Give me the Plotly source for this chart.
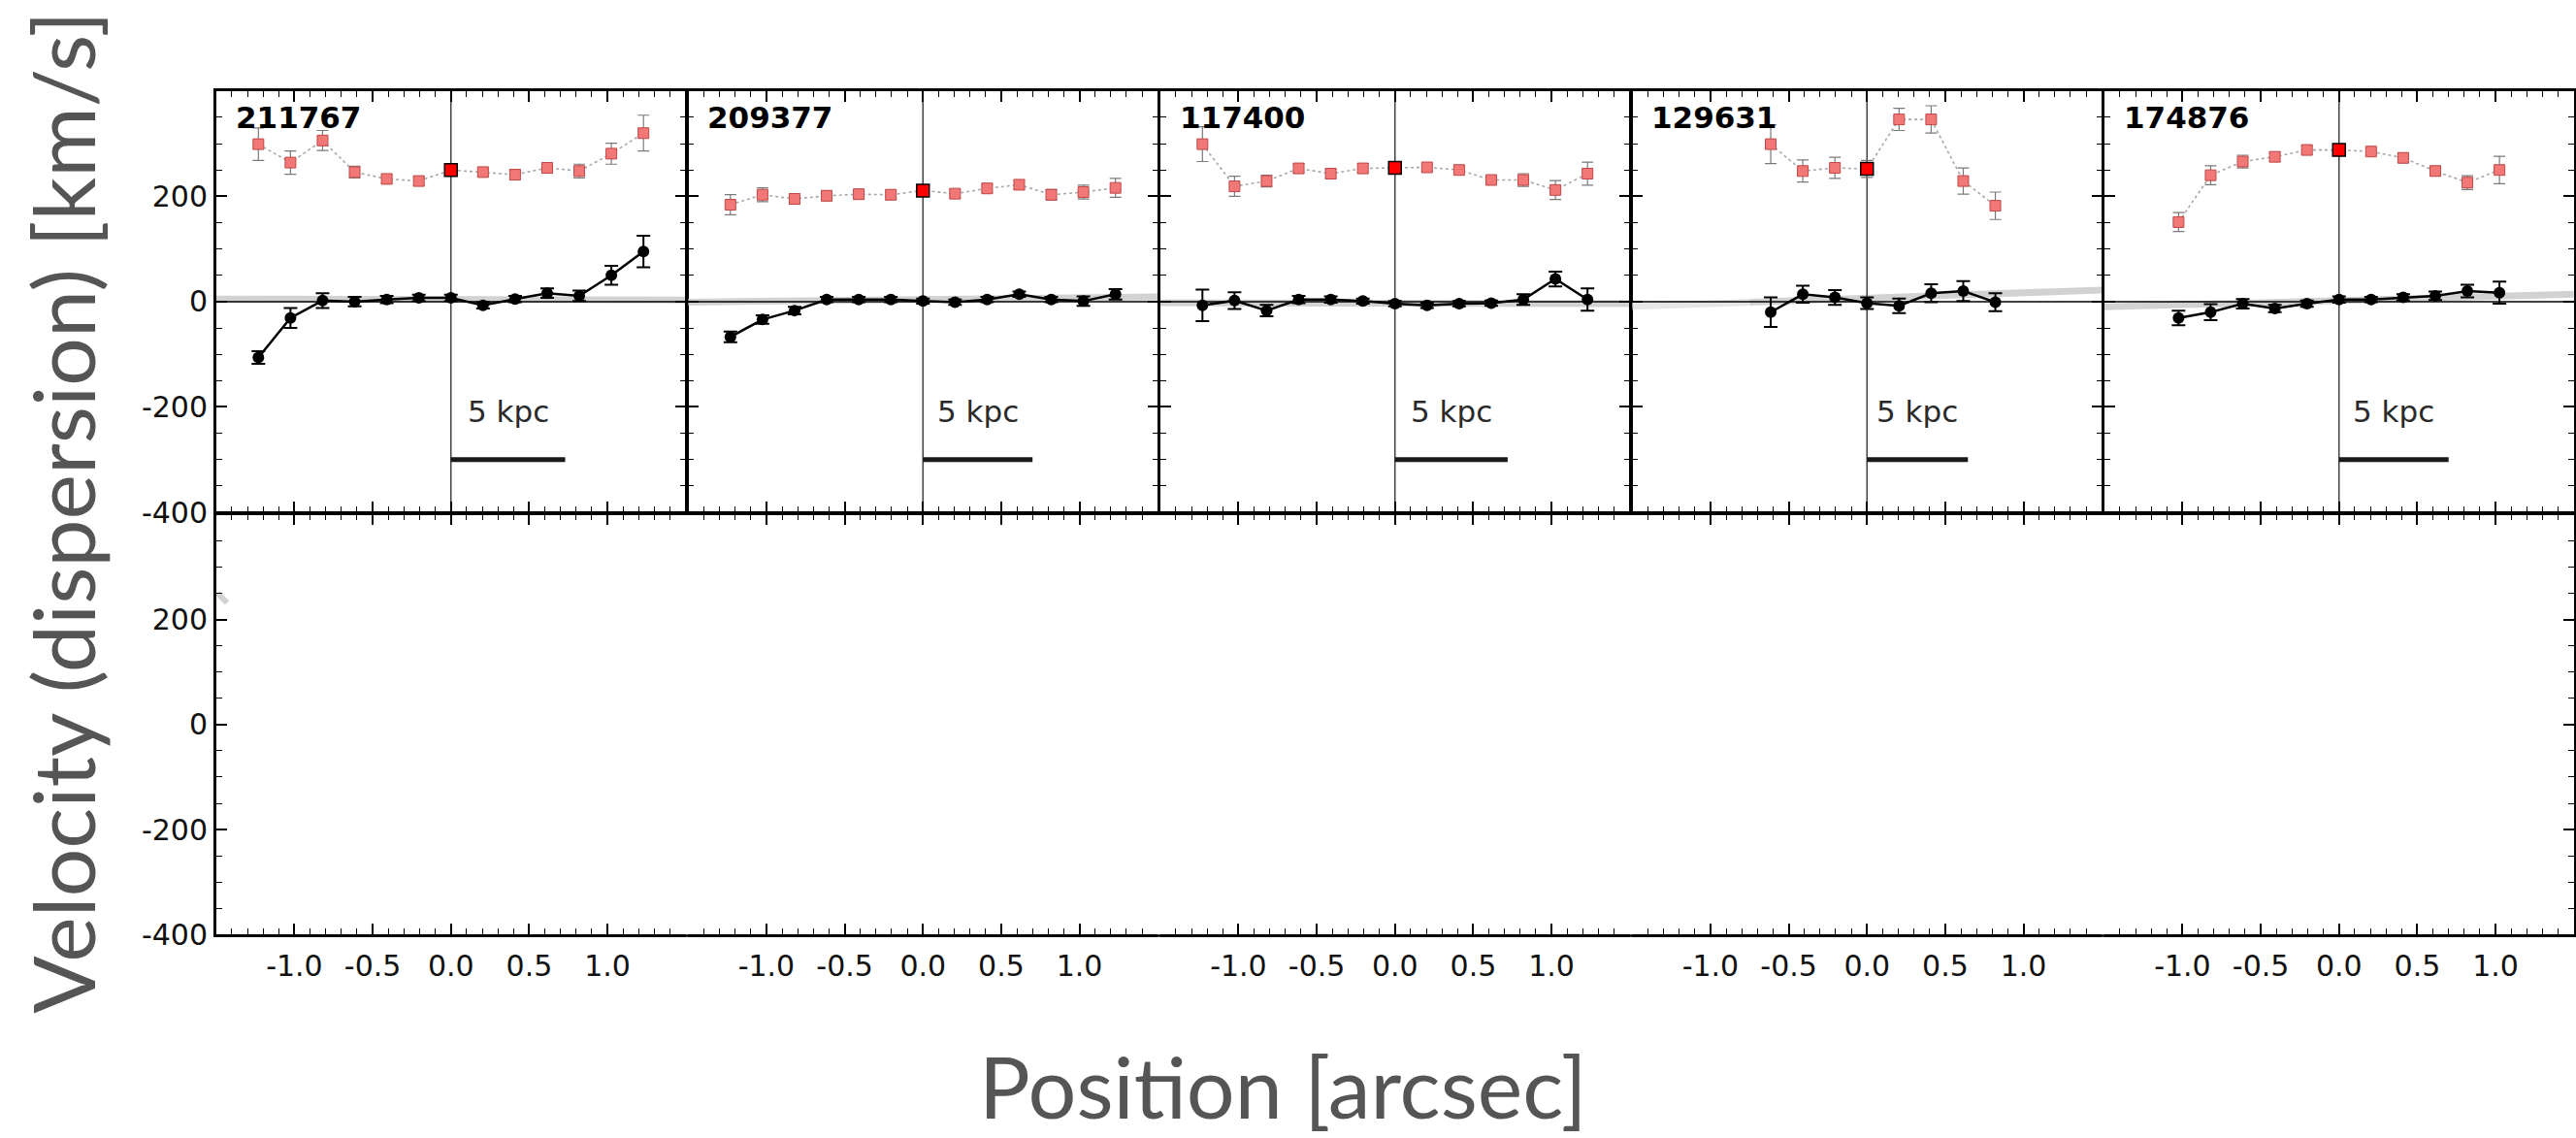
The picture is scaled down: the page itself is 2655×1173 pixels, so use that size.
import plotly.graph_objects as go

W, H = 2655, 1173

# ---------------- data ----------------
galaxy_ids = ["211767", "209377", "117400", "129631", "174876"]

x_211767 = [-1.23, -1.025, -0.82, -0.615, -0.41, -0.205, 0.0, 0.205, 0.41, 0.615, 0.82, 1.025, 1.23]
vel_211767 = [-106, -31, 2, 0, 4, 7, 7, -7, 5, 16, 11, 50, 95]
vel_err_211767 = [12, 19, 14, 9, 7, 6, 6, 6, 6, 9, 10, 18, 30]
disp_211767 = [299, 264, 306, 246, 233, 229, 250, 246, 241, 254, 248, 281, 320]
disp_err_211767 = [31, 22, 19, 11, 8, 8, 5, 8, 9, 10, 13, 20, 34]

x_209377 = [-1.23, -1.025, -0.82, -0.615, -0.41, -0.205, 0.0, 0.205, 0.41, 0.615, 0.82, 1.025, 1.23]
vel_209377 = [-67, -34, -17, 4, 4, 4, 1, -1, 4, 14, 4, 1, 14]
vel_err_209377 = [10, 8, 7, 5, 5, 5, 5, 5, 5, 5, 5, 9, 10]
disp_209377 = [184, 203, 195, 201, 204, 203, 211, 205, 215, 222, 203, 208, 216]
disp_err_209377 = [19, 13, 10, 9, 9, 9, 6, 8, 8, 9, 10, 13, 18]

x_117400 = [-1.23, -1.025, -0.82, -0.615, -0.41, -0.205, 0.0, 0.205, 0.41, 0.615, 0.82, 1.025, 1.23]
vel_117400 = [-7, 2, -17, 4, 4, 1, -4, -7, -4, -3, 4, 43, 4]
vel_err_117400 = [30, 16, 11, 7, 6, 5, 5, 5, 5, 5, 10, 14, 21]
disp_117400 = [299, 219, 229, 253, 243, 253, 254, 255, 250, 231, 231, 212, 243]
disp_err_117400 = [33, 19, 11, 9, 9, 9, 6, 8, 8, 8, 12, 18, 22]

x_129631 = [-0.615, -0.41, -0.205, 0.0, 0.205, 0.41, 0.615, 0.82]
vel_129631 = [-20, 14, 8, -3, -8, 16, 20, -1]
vel_err_129631 = [28, 16, 14, 11, 14, 17, 19, 17]
disp_129631 = [299, 248, 254, 252, 346, 346, 229, 182]
disp_err_129631 = [37, 21, 20, 16, 21, 26, 25, 26]

x_174876 = [-1.025, -0.82, -0.615, -0.41, -0.205, 0.0, 0.205, 0.41, 0.615, 0.82, 1.025]
vel_174876 = [-31, -20, -4, -13, -4, 4, 4, 8, 11, 20, 17]
vel_err_174876 = [14, 15, 9, 7, 6, 6, 5, 6, 8, 12, 21]
disp_174876 = [151, 240, 266, 275, 288, 288, 285, 273, 248, 226, 250]
disp_err_174876 = [18, 18, 12, 9, 8, 6, 7, 9, 9, 13, 26]

# grey model curves (end points over the panel width)
model_x = [-1.5, 1.5]
model_211767 = [5, 3]
model_209377 = [-1, 9]
model_117400 = [-2, -4]
model_129631 = [-9, 22]
model_174876 = [-10, 14]

# stray grey fragment visible in the lower-left panel
frag_x = [-1.49, -1.43]
frag_y = [250, 232]

# 5 kpc scale bar lengths in arcsec
kpc5_arcsec = [0.73, 0.70, 0.72, 0.645, 0.70]

x_ticks = [-1.5, -1.0, -0.5, 0.0, 0.5, 1.0, 1.5]
x_ticklabels = ["", "-1.0", "-0.5", "0.0", "0.5", "1.0", ""]
y_ticks = [-400, -200, 0, 200, 400]
y_ticklabels = ["-400", "-200", "0", "200", ""]
x_range = [-1.5, 1.5]
y_range = [-400, 400]

series = [
    (x_211767, vel_211767, vel_err_211767, disp_211767, disp_err_211767, model_211767),
    (x_209377, vel_209377, vel_err_209377, disp_209377, disp_err_209377, model_209377),
    (x_117400, vel_117400, vel_err_117400, disp_117400, disp_err_117400, model_117400),
    (x_129631, vel_129631, vel_err_129631, disp_129631, disp_err_129631, model_129631),
    (x_174876, vel_174876, vel_err_174876, disp_174876, disp_err_174876, model_174876),
]

# ---------------- layout geometry (pixels, frame-line centres) ----------------
LW = 2.5
col_edges = [221.5, 708.0, 1194.5, 1681.0, 2167.5, 2654.0]
row_edges = [94.0, 537.5, 979.5]

TICKFONT = dict(family="DejaVu Sans", size=30, color="#111111")

fig = go.Figure()
layout = dict(
    width=W, height=H,
    margin=dict(l=0, r=0, t=0, b=0),
    paper_bgcolor="white", plot_bgcolor="rgba(0,0,0,0)",
    showlegend=False,
    annotations=[], shapes=[],
)


def ax_names(n):
    return ("xaxis" if n == 1 else f"xaxis{n}",
            "yaxis" if n == 1 else f"yaxis{n}",
            "x" if n == 1 else f"x{n}",
            "y" if n == 1 else f"y{n}")


for r in range(2):
    top_px = row_edges[r] + LW / 2
    bot_px = row_edges[r + 1] - LW / 2
    for i in range(5):
        n = r * 5 + i + 1
        xa, ya, xr, yr = ax_names(n)
        x0p = col_edges[i] + LW / 2
        x1p = col_edges[i + 1] - LW / 2
        layout[xa] = dict(
            domain=[x0p / W, min(x1p / W, 1.0)],
            anchor=yr, range=x_range,
            showgrid=False, zeroline=False,
            showline=True, linecolor="black", linewidth=LW,
            mirror="ticks",
            ticks="inside", ticklen=11, tickwidth=1.6, tickcolor="black",
            tickmode="array", tickvals=x_ticks, ticktext=x_ticklabels,
            showticklabels=(r == 1), tickfont=TICKFONT, ticklabelstandoff=4,
            minor=dict(ticks="inside", ticklen=6, tickwidth=1.1,
                       tickcolor="black", tickmode="linear", tick0=0, dtick=0.1),
            fixedrange=True,
        )
        ydict = dict(
            domain=[1 - bot_px / H, 1 - top_px / H],
            anchor=xr, range=y_range,
            showgrid=False, zeroline=False,
            linecolor="black", linewidth=LW,
            tickmode="array", tickvals=y_ticks, ticktext=y_ticklabels,
            tickfont=TICKFONT, tickcolor="black", tickwidth=1.6, ticklen=11,
            minor=dict(ticks="inside", ticklen=6, tickwidth=1.1,
                       tickcolor="black", tickmode="linear", tick0=0, dtick=50),
            showticklabels=(i == 0),
            fixedrange=True,
        )
        if r == 0:
            ydict.update(showline=True, mirror="ticks", ticks="inside")
        else:
            if i == 0:
                ydict.update(showline=True, mirror=False, ticks="inside")
            elif i == 4:
                ydict.update(showline=True, mirror=False, ticks="inside", side="right",
                             showticklabels=False)
            else:
                ydict.update(showline=False, ticks="", minor=dict(ticks=""))
        layout[ya] = ydict

# continuous bottom frame line of the lower row
layout["shapes"].append(dict(
    type="line", xref="paper", yref="paper",
    x0=(col_edges[0] - LW / 2) / W, x1=1.0,
    y0=1 - row_edges[2] / H, y1=1 - row_edges[2] / H,
    line=dict(color="black", width=LW), layer="above"))

# ---------------- traces ----------------
for i, (xs, vel, vel_err, disp, disp_err, model) in enumerate(series):
    n = i + 1
    _, _, xr, yr = ax_names(n)
    # grey model
    if i == 3:
        ymid = model[0] + (model[1] - model[0]) * 0.25
        fig.add_trace(go.Scatter(x=[model_x[0], -0.75], y=[model[0], ymid],
                                 mode="lines", line=dict(color="#e6e6e6", width=7),
                                 xaxis=xr, yaxis=yr, hoverinfo="skip"))
        fig.add_trace(go.Scatter(x=[-0.75, model_x[1]], y=[ymid, model[1]],
                                 mode="lines", line=dict(color="#d2d2d2", width=7),
                                 xaxis=xr, yaxis=yr, hoverinfo="skip"))
    else:
        fig.add_trace(go.Scatter(x=model_x, y=model, mode="lines",
                                 line=dict(color="#d2d2d2", width=7),
                                 xaxis=xr, yaxis=yr, hoverinfo="skip"))
    # reference lines
    fig.add_trace(go.Scatter(x=x_range, y=[0, 0], mode="lines",
                             line=dict(color="black", width=1.5),
                             xaxis=xr, yaxis=yr, hoverinfo="skip"))
    fig.add_trace(go.Scatter(x=[0, 0], y=y_range, mode="lines",
                             line=dict(color="#444444", width=1.5),
                             xaxis=xr, yaxis=yr, hoverinfo="skip"))
    # dispersion (red squares)
    fig.add_trace(go.Scatter(
        x=xs, y=disp, mode="lines+markers",
        line=dict(color="#a8a8a8", width=1.6, dash="dot"),
        marker=dict(symbol="square", size=11, color="#f27878",
                    line=dict(color="#c04848", width=1)),
        error_y=dict(type="data", array=disp_err, color="#7a7a7a",
                     thickness=1.2, width=6),
        xaxis=xr, yaxis=yr))
    c = xs.index(0.0)
    fig.add_trace(go.Scatter(
        x=[xs[c]], y=[disp[c]], mode="markers",
        marker=dict(symbol="square", size=13, color="#ff0000",
                    line=dict(color="black", width=1.5)),
        xaxis=xr, yaxis=yr))
    # velocity (black circles)
    fig.add_trace(go.Scatter(
        x=xs, y=vel, mode="lines+markers",
        line=dict(color="black", width=2.5),
        marker=dict(symbol="circle", size=12, color="black"),
        error_y=dict(type="data", array=vel_err, color="black",
                     thickness=2, width=7),
        xaxis=xr, yaxis=yr))
    # scale bar
    fig.add_trace(go.Scatter(x=[0, kpc5_arcsec[i]], y=[-300, -300], mode="lines",
                             line=dict(color="#1a1a1a", width=5),
                             xaxis=xr, yaxis=yr, hoverinfo="skip"))
    layout["annotations"].append(dict(
        x=kpc5_arcsec[i] / 2, y=-209, xref=xr, yref=yr,
        text="5 kpc", showarrow=False, xanchor="center", yanchor="middle",
        font=dict(family="DejaVu Sans", size=31, color="#2a2a2a")))
    layout["annotations"].append(dict(
        x=0.037, y=0.937, xref=f"{xr} domain", yref=f"{yr} domain",
        text=f"<b>{galaxy_ids[i]}</b>", showarrow=False,
        xanchor="left", yanchor="middle",
        font=dict(family="DejaVu Sans", size=31, color="black")))

# bottom row (empty panels)
for i in range(5):
    n = 6 + i
    _, _, xr, yr = ax_names(n)
    if i == 0:
        fig.add_trace(go.Scatter(x=frag_x, y=frag_y, mode="lines",
                                 line=dict(color="#d2d2d2", width=6),
                                 xaxis=xr, yaxis=yr, hoverinfo="skip"))
    else:
        fig.add_trace(go.Scatter(x=[None], y=[None], mode="markers",
                                 xaxis=xr, yaxis=yr, hoverinfo="skip"))

# axis titles
layout["annotations"].append(dict(
    x=64 / W, y=1 - 537 / H, xref="paper", yref="paper",
    text="Velocity (dispersion) [km/s]", textangle=-90, showarrow=False,
    xanchor="center", yanchor="middle",
    font=dict(family="Lato", size=88, color="#555555")))
layout["annotations"].append(dict(
    x=1322 / W, y=1 - 1136 / H, xref="paper", yref="paper",
    text="Position [arcsec]", showarrow=False,
    xanchor="center", yanchor="middle",
    font=dict(family="Lato", size=88, color="#555555")))

fig.update_layout(**layout)
fig.write_html("out.html")
